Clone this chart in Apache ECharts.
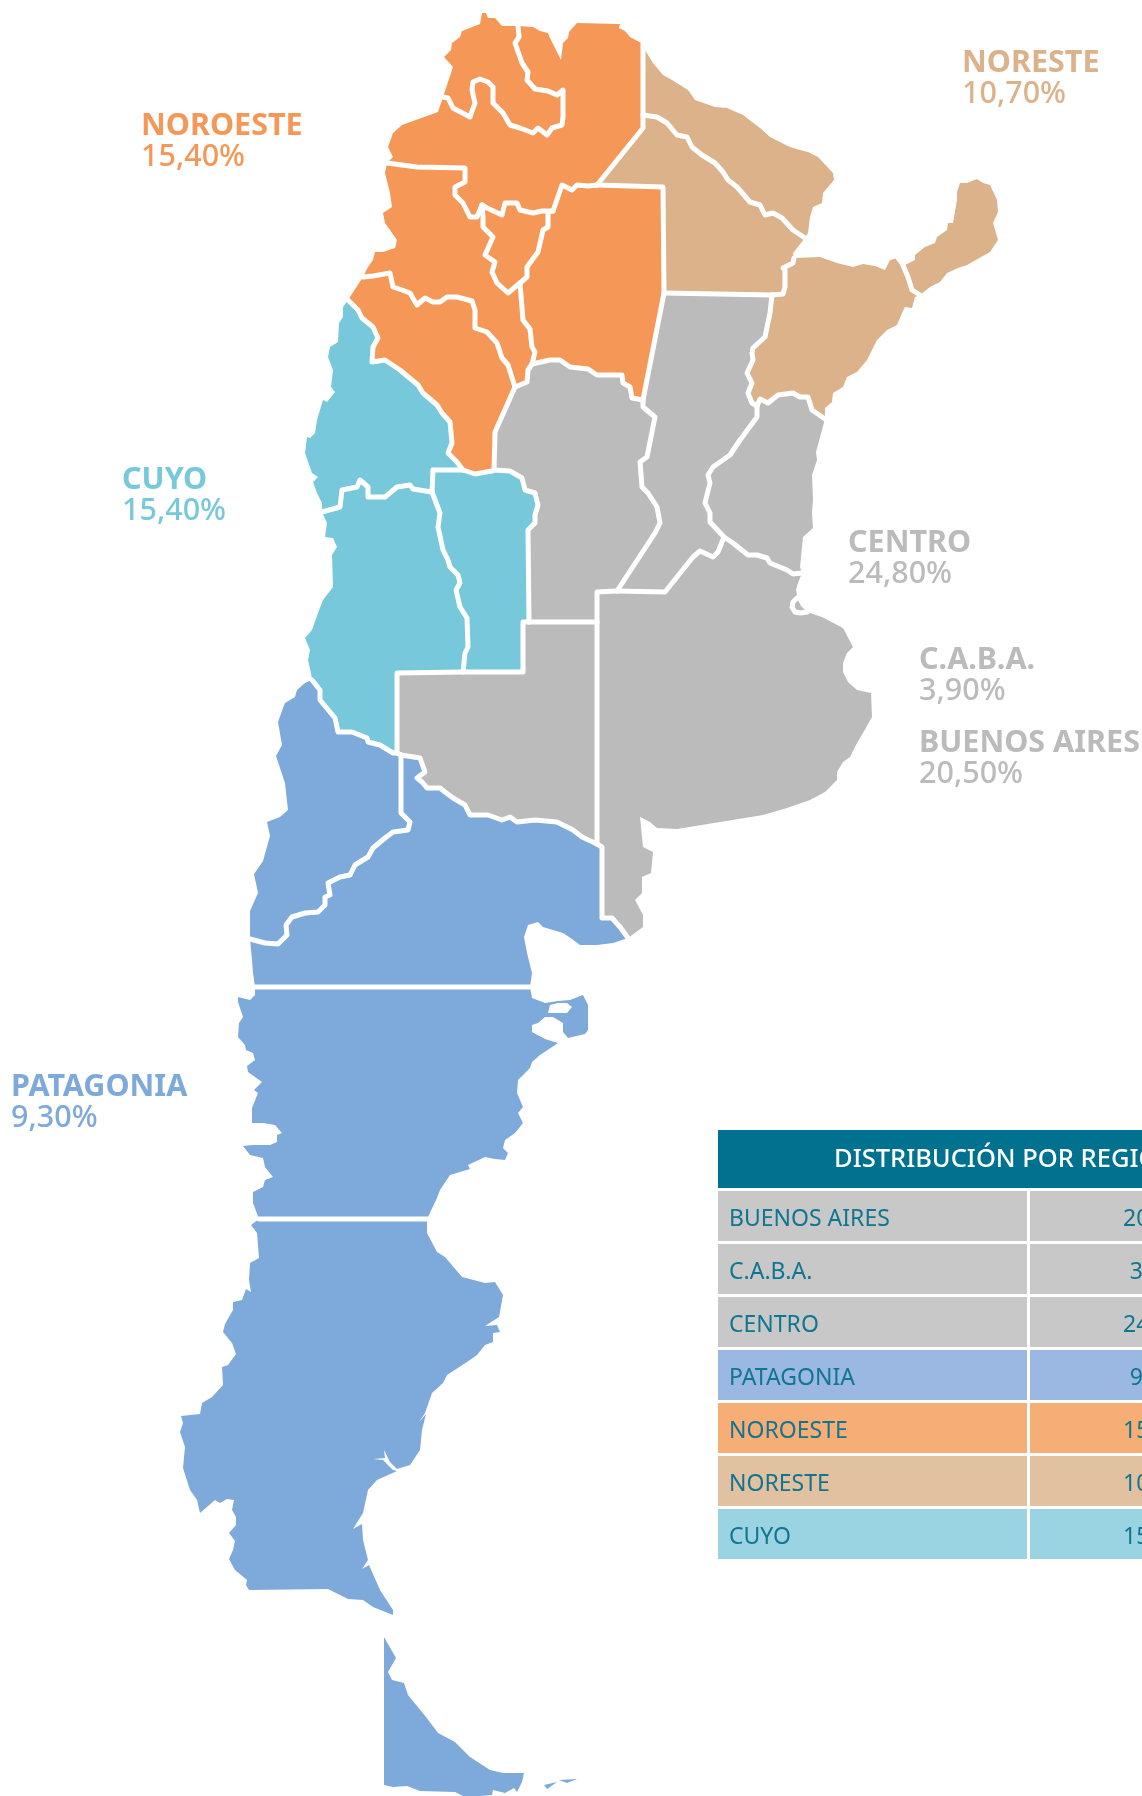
<!DOCTYPE html>
<html>
<head>
<meta charset="utf-8">
<style>
  html, body { margin: 0; padding: 0; background: #fff; }
  #chart { width: 1142px; height: 1796px; }
</style>
<script src="https://cdn.jsdelivr.net/npm/echarts@6/dist/echarts.min.js"></script>
</head>
<body>
<div id="chart"></div>
<script>
// region shares
const labelNames = ['NOROESTE', 'NORESTE', 'CUYO', 'CENTRO', 'C.A.B.A.', 'BUENOS AIRES', 'PATAGONIA'];
const labelValues = ['15,40%', '10,70%', '15,40%', '24,80%', '3,90%', '20,50%', '9,30%'];
const labelRegions = ['noa', 'nea', 'cuyo', 'pampa', 'pampa', 'pampa', 'pat'];

// table
const tableTitle = 'DISTRIBUCIÓN POR REGIÓN';
const tableNames = ['BUENOS AIRES', 'C.A.B.A.', 'CENTRO', 'PATAGONIA', 'NOROESTE', 'NORESTE', 'CUYO'];
const tableValues = ['20,50%', '3,90%', '24,80%', '9,30%', '15,40%', '10,70%', '15,40%'];

// provincia borders and coasts, map units
const coastJujuy = [[443,97],[453,67],[444,57],[451,50],[452,43],[460,37],[462,31],[480,24],[482,13],[486,13],[488,18],[495,18],[502,26],[518,26]];
const bSaltaJujuy = [[443,97],[448,98],[453,108],[470,117],[475,103],[472,90],[473,82],[480,79],[488,82],[493,87],[493,103],[503,113],[510,125],[520,128],[533,133],[538,128],[547,135],[552,128],[562,125],[563,117],[563,90],[557,95],[548,91],[535,89],[527,80],[528,72],[522,63],[515,43],[519,37],[518,26]];
const coastSaltaN = [[518,26],[533,27],[540,31],[548,33],[550,38],[555,48],[561,60],[563,43],[568,38],[569,32],[577,23],[620,24],[619,28],[625,31],[630,37],[643,44]];
const bSaltaFormosa = [[643,44],[643,115]];
const bSaltaChaco = [[643,115],[643,128],[597,185]];
const coastFormosa = [[643,47],[653,63],[663,75],[672,80],[688,90],[695,100],[715,107],[727,108],[743,115],[760,128],[770,137],[780,142],[790,147],[800,150],[808,152],[818,157],[833,173],[834,180],[823,193],[822,203],[813,207],[810,217],[808,233],[805,238]];
const bFormosaChaco = [[643,115],[657,117],[667,123],[677,135],[687,137],[692,147],[702,155],[715,163],[723,172],[728,180],[737,187],[750,202],[760,205],[765,215],[773,213],[782,218],[793,230],[805,238]];
const bChacoSantiago = [[597,185],[663,187],[664,293]];
const bChacoSantaFe = [[664,293],[772,295]];
const bChacoCorrientes = [[772,295],[783,294],[785,287],[785,270],[783,268],[793,263],[794,258]];
const coastChaco = [[794,258],[793,253],[805,238]];
const coastCorrientesN = [[794,258],[820,257],[837,263],[853,267],[863,264],[875,266],[885,270],[890,260],[898,258]];
const bMisiones = [[898,258],[902,263],[908,277],[912,290],[920,295]];
const coastMisiones = [[898,258],[905,265],[915,260],[915,255],[925,247],[935,243],[937,237],[947,230],[948,223],[953,223],[957,200],[957,192],[960,183],[967,183],[977,179],[983,183],[990,185],[997,200],[998,212],[993,223],[998,240],[990,252],[967,265],[958,268],[947,273],[940,282],[930,287],[920,295]];
const coastCorrientesE = [[920,295],[915,297],[912,308],[905,307],[902,313],[897,325],[887,330],[877,340],[867,360],[857,372],[847,377],[843,387],[833,393],[832,402],[825,408],[825,419]];
const bCorrientesER = [[757,406],[760,399],[768,403],[778,395],[793,393],[800,397],[808,397],[812,410],[825,419]];
const bCorrientesSantaFe = [[772,295],[770,313],[765,337],[753,348],[752,353],[753,360],[747,373],[752,383],[748,393],[752,403],[757,406]];
const bSantaFeER = [[757,406],[757,417],[740,440],[730,455],[713,467],[708,475],[710,483],[705,503],[710,513],[710,522],[724,537]];
const coastER = [[825,419],[822,430],[816,452],[817,460],[812,475],[813,500],[812,513],[813,528],[803,537],[800,567],[802,573]];
const bERBA = [[724,537],[733,543],[748,555],[757,555],[767,558],[770,563],[787,570],[793,574],[802,573]];
const bSantaFeBA = [[724,537],[718,552],[713,557],[700,551],[693,557],[665,592],[617,591]];
const bSantaFeCordoba = [[617,591],[655,533],[660,523],[657,507],[648,493],[642,487],[640,462],[647,457],[655,417],[643,407],[643,400]];
const bSantiagoSantaFe = [[643,400],[664,293]];
const bCordobaBA = [[617,591],[597,592],[597,622]];
const bPampaBA = [[597,622],[597,844]];
const bCordobaPampa = [[529,622],[597,622]];
const bSanLuisCordoba = [[494,470],[510,471],[522,478],[525,490],[535,493],[538,505],[535,515],[535,523],[528,530],[529,622]];
const bSanLuisPampa = [[529,622],[523,622],[523,672],[463,672]];
const bLaRiojaCordoba = [[515,387],[495,432],[494,470]];
const bSantiagoCordoba = [[532,364],[550,360],[560,360],[570,367],[588,369],[597,375],[622,375],[623,383],[630,387],[632,398],[643,400]];
const bCatamarcaCordoba = [[532,364],[528,370],[527,382],[515,387]];
const bCatamarcaSantiago = [[520,283],[523,320],[530,329],[532,347],[535,352],[532,364]];
const bCatamarcaTucuman = [[482,205],[483,217],[483,227],[493,237],[485,255],[495,262],[492,272],[497,283],[508,293],[520,283]];
const bTucumanSantiago = [[520,283],[527,277],[527,267],[538,252],[543,230],[548,227],[548,212],[553,211]];
const bSaltaTucuman = [[482,205],[487,208],[502,215],[505,203],[517,203],[520,210],[533,213],[542,211],[553,211]];
const bSaltaSantiago = [[553,211],[562,185],[572,190],[577,185],[588,186],[597,185]];
const bSaltaCatamarca = [[387,163],[417,167],[465,168],[465,182],[455,187],[455,195],[463,203],[470,217],[477,217],[482,205]];
const coastSalta = [[387,163],[393,157],[388,147],[393,133],[402,125],[438,112],[443,97]];
const coastCatamarca = [[387,163],[385,173],[390,193],[392,207],[383,213],[385,223],[397,240],[395,248],[383,252],[375,252],[373,260],[368,267],[363,277]];
const bCatamarcaLaRioja = [[363,277],[373,276],[390,273],[393,287],[402,290],[410,293],[417,305],[425,298],[433,302],[440,302],[447,297],[457,297],[472,301],[475,310],[475,328],[487,332],[497,343],[502,358],[508,365],[515,387]];
const coastLaRioja = [[363,277],[362,283],[353,297],[348,300]];
const bSanJuanLaRioja = [[348,300],[358,310],[362,318],[373,327],[378,338],[373,347],[372,362],[385,360],[400,370],[418,385],[423,393],[437,405],[442,413],[450,422],[452,443],[448,453],[457,462],[463,470]];
const bSanLuisTopA = [[433,470],[463,470]];
const bSanLuisTopB = [[463,470],[475,474],[492,471],[494,470]];
const coastSanJuan = [[348,300],[343,307],[343,317],[339,323],[338,342],[330,347],[328,357],[333,370],[331,387],[335,392],[327,402],[323,400],[317,420],[315,433],[310,438],[307,437],[305,453],[312,473],[318,477],[313,482],[317,493],[322,503],[322,512]];
const bSanJuanMendoza = [[322,512],[340,507],[342,490],[357,487],[360,480],[368,487],[368,497],[385,497],[397,487],[410,485],[413,489],[432,492]];
const bSanJuanSanLuis = [[432,492],[433,470]];
const bMendozaSanLuis = [[432,492],[440,513],[438,527],[443,550],[448,560],[450,567],[458,575],[460,583],[456,590],[460,607],[467,618],[468,647],[465,653],[463,672]];
const bMendozaPampa = [[463,672],[397,673],[397,753]];
const coastMendoza = [[322,512],[327,523],[325,537],[333,538],[337,547],[332,555],[333,587],[323,600],[318,613],[312,630],[305,638],[310,650],[308,660],[311,673],[312,680]];
const bMendozaNeuquen = [[312,680],[320,690],[320,700],[335,718],[338,732],[352,732],[367,738],[368,742],[380,745],[393,753],[397,753],[401,755]];
const bPampaRN = [[401,755],[420,758],[425,772],[417,778],[422,782],[427,788],[440,788],[445,792],[453,798],[465,805],[470,815],[488,815],[502,820],[510,817],[517,822],[535,820],[557,822],[573,830],[582,837],[597,844]];
const bBARN = [[597,844],[602,847],[602,918],[612,918],[620,927],[628,938]];
const coastBA = [[802,573],[798,583],[796,590],[798,600],[801,606],[807,612],[822,617],[843,628],[853,647],[847,653],[843,663],[843,672],[848,682],[857,690],[871,693],[872,717],[863,733],[857,743],[850,757],[843,762],[837,772],[837,780],[825,792],[810,800],[787,808],[763,815],[677,829],[657,828],[650,822],[640,817],[643,847],[653,852],[651,873],[642,877],[642,893],[635,900],[643,915],[643,927],[628,938]];
const ringCaba = [[797,598],[793,602],[792,607],[795,612],[800,613],[807,612]];
const bNeuquenRN = [[401,755],[401,813],[410,822],[408,830],[393,832],[385,838],[373,848],[368,857],[355,865],[350,875],[340,877],[328,883],[330,895],[325,897],[325,905],[318,912],[305,913],[292,917],[286,925],[287,935],[278,944],[265,943],[250,939]];
const coastNeuquen = [[312,680],[305,683],[297,690],[295,697],[285,703],[283,708],[278,722],[282,745],[276,756],[285,783],[288,810],[280,817],[267,822],[270,836],[263,861],[254,874],[258,893],[250,911],[250,939]];
const coastRN = [[628,938],[613,943],[597,945],[580,945],[572,939],[563,933],[543,927],[538,922],[528,925],[524,937],[527,953],[532,973],[530,987]];
const bRNChubut = [[255,987],[530,987]];
const coastRNW = [[255,987],[253,973],[252,960],[250,939]];
const coastChubutE = [[530,987],[532,998],[545,1003],[558,1001],[570,1000],[583,995],[588,1005],[588,1030],[585,1034],[568,1038],[563,1032],[563,1023],[553,1017],[545,1017],[538,1023],[532,1025],[532,1032],[545,1039],[558,1043],[540,1055],[532,1062],[530,1068],[518,1080],[517,1093],[523,1107],[518,1113],[523,1123],[515,1133],[505,1140],[503,1148],[508,1153],[505,1160],[495,1159],[485,1157],[468,1165],[470,1169],[450,1175],[440,1190],[437,1198],[427,1219]];
const holeGolfo = [[550,1005],[548,1013],[567,1013],[572,1007],[567,1003],[558,1003]];
const bChubutSC = [[259,1219],[427,1219]];
const coastChubutW = [[259,1219],[253,1203],[253,1192],[263,1187],[265,1180],[273,1177],[265,1167],[263,1158],[250,1155],[243,1146],[253,1145],[270,1145],[277,1142],[277,1135],[282,1133],[275,1125],[263,1123],[252,1123],[252,1108],[258,1093],[254,1090],[262,1082],[248,1072],[247,1066],[255,1060],[253,1053],[246,1050],[245,1045],[238,1037],[239,1023],[243,1017],[238,1002],[238,997],[250,1000],[255,995],[255,987]];
const coastSantaCruz = [[427,1219],[427,1233],[437,1252],[445,1257],[462,1277],[485,1283],[495,1282],[503,1295],[499,1317],[485,1326],[497,1325],[500,1332],[493,1333],[493,1342],[485,1345],[477,1355],[467,1362],[447,1375],[443,1383],[432,1393],[425,1413],[419,1422],[426,1414],[422,1430],[420,1450],[410,1465],[397,1469],[390,1462],[384,1450],[385,1458],[373,1459],[383,1460],[393,1470],[397,1471],[377,1480],[368,1490],[363,1513],[353,1529],[362,1524],[363,1540],[368,1560],[362,1569],[369,1565],[380,1590],[393,1610],[393,1615],[373,1607],[363,1600],[348,1599],[328,1589],[249,1590],[246,1585],[247,1580],[235,1570],[229,1559],[233,1550],[235,1541],[229,1533],[236,1525],[236,1517],[232,1510],[234,1500],[227,1499],[220,1503],[215,1500],[200,1513],[197,1500],[190,1490],[183,1468],[185,1447],[180,1432],[183,1423],[181,1416],[200,1414],[202,1403],[212,1397],[223,1385],[222,1367],[228,1365],[236,1354],[232,1343],[223,1332],[225,1324],[233,1310],[233,1302],[242,1300],[246,1289],[251,1292],[249,1280],[250,1263],[259,1258],[257,1233],[251,1225],[259,1219]];
const coastFuego = [[384,1637],[396,1658],[388,1672],[392,1680],[404,1683],[408,1695],[426,1717],[438,1733],[455,1742],[470,1757],[490,1770],[503,1773],[524,1773],[522,1782],[517,1792],[514,1788],[505,1793],[493,1790],[492,1795],[480,1796],[463,1796],[455,1792],[420,1791],[407,1786],[393,1787],[384,1785]];
const islaA = [[544,1785],[557,1782],[550,1787],[547,1789]];
const islaB = [[559,1780],[577,1779],[567,1783]];

const rev = a => a.slice().reverse();
const chain = (...arcs) => [].concat(...arcs);

// name, region, rings
const provincias = [
  ['Jujuy', 'noa', [chain(coastJujuy, rev(bSaltaJujuy))]],
  ['Salta', 'noa', [chain(bSaltaJujuy, coastSaltaN, bSaltaFormosa, bSaltaChaco, rev(bSaltaSantiago), rev(bSaltaTucuman), rev(bSaltaCatamarca), coastSalta)]],
  ['Catamarca', 'noa', [chain(bSaltaCatamarca, bCatamarcaTucuman, bCatamarcaSantiago, bCatamarcaCordoba, rev(bCatamarcaLaRioja), rev(coastCatamarca))]],
  ['Tucumán', 'noa', [chain(bSaltaTucuman, rev(bTucumanSantiago), rev(bCatamarcaTucuman))]],
  ['Santiago del Estero', 'noa', [chain(rev(bSaltaSantiago), bSaltaTucuman.slice(-1), rev(bTucumanSantiago), bCatamarcaSantiago, bSantiagoCordoba, bSantiagoSantaFe, rev(bChacoSantiago))]],
  ['La Rioja', 'noa', [chain(bCatamarcaLaRioja, bLaRiojaCordoba, rev(bSanLuisTopB), rev(bSanJuanLaRioja), coastLaRioja)]],
  ['Formosa', 'nea', [chain(coastFormosa, rev(bFormosaChaco), rev(bSaltaFormosa))]],
  ['Chaco', 'nea', [chain(bFormosaChaco, rev(coastChaco), rev(bChacoCorrientes), rev(bChacoSantaFe), rev(bChacoSantiago), rev(bSaltaChaco))]],
  ['Corrientes', 'nea', [chain(coastCorrientesN, bMisiones, coastCorrientesE, rev(bCorrientesER), rev(bCorrientesSantaFe), bChacoCorrientes)]],
  ['Misiones', 'nea', [chain(coastMisiones, rev(bMisiones))]],
  ['San Juan', 'cuyo', [chain(coastSanJuan, bSanJuanMendoza, bSanJuanSanLuis, bSanLuisTopA, rev(bSanJuanLaRioja))]],
  ['San Luis', 'cuyo', [chain(bSanLuisTopA, bSanLuisTopB, bSanLuisCordoba, bSanLuisPampa, rev(bMendozaSanLuis), bSanJuanSanLuis)]],
  ['Mendoza', 'cuyo', [chain(bSanJuanMendoza, bMendozaSanLuis, bMendozaPampa, rev(bMendozaNeuquen.slice(0, -1)), rev(coastMendoza))]],
  ['Córdoba', 'pampa', [chain(rev(bCatamarcaCordoba), bSantiagoCordoba, rev(bSantaFeCordoba), bCordobaBA, rev(bCordobaPampa), rev(bSanLuisCordoba), rev(bLaRiojaCordoba))]],
  ['Santa Fe', 'pampa', [chain(bChacoSantaFe, bCorrientesSantaFe, bSantaFeER, bSantaFeBA, bSantaFeCordoba, bSantiagoSantaFe)]],
  ['Entre Ríos', 'pampa', [chain(bCorrientesER, coastER, rev(bERBA), rev(bSantaFeER))]],
  ['La Pampa', 'pampa', [chain(rev(bMendozaPampa.slice(0, 2)), rev(bSanLuisPampa), bCordobaPampa, bPampaBA, rev(bPampaRN), bMendozaPampa.slice(-1))]],
  ['Buenos Aires', 'pampa', [chain(rev(bSantaFeBA), bERBA, coastBA, rev(bBARN), rev(bPampaBA), rev(bCordobaBA).slice(0, 2))]],
  ['Neuquén', 'pat', [chain(coastNeuquen, rev(bNeuquenRN), rev(bMendozaNeuquen))]],
  ['Río Negro', 'pat', [chain(bNeuquenRN, rev(coastRNW), bRNChubut, rev(coastRN), rev(bBARN), rev(bPampaRN))]],
  ['Chubut', 'pat', [chain(bRNChubut, coastChubutE, rev(bChubutSC), coastChubutW), holeGolfo]],
  ['Santa Cruz', 'pat', [chain(bChubutSC, coastSantaCruz)]],
  ['Tierra del Fuego', 'pat', [coastFuego]],
  ['Isla A', 'pat', [islaA]],
  ['Isla B', 'pat', [islaB]]
];

// white lines between provinces, the coast stays unstroked
const borders = [
  bSaltaJujuy, bSaltaFormosa, bSaltaChaco, bFormosaChaco, bChacoSantiago, bChacoSantaFe, bChacoCorrientes,
  bMisiones, bCorrientesER, bCorrientesSantaFe, bSantaFeER, bERBA, bSantaFeBA, bSantaFeCordoba, bSantiagoSantaFe,
  bCordobaBA, bPampaBA, bCordobaPampa, bSanLuisCordoba, bSanLuisPampa, bLaRiojaCordoba, bSantiagoCordoba,
  bCatamarcaCordoba, bCatamarcaSantiago, bCatamarcaTucuman, bTucumanSantiago, bSaltaTucuman, bSaltaSantiago,
  bSaltaCatamarca, bCatamarcaLaRioja, bSanJuanLaRioja, bSanLuisTopA, bSanLuisTopB, bSanJuanMendoza, bSanJuanSanLuis,
  bMendozaSanLuis, bMendozaPampa, bMendozaNeuquen, bPampaRN, bBARN, bNeuquenRN, bRNChubut, bChubutSC, ringCaba
];

const mapColors = { noa: '#F59857', nea: '#DBB28A', cuyo: '#77C8DB', pampa: '#BBBBBB', pat: '#7EA9DB' };
const rowColors = ['#C8C8C8', '#C8C8C8', '#C8C8C8', '#9AB8E2', '#F6AD76', '#E1C1A0', '#9AD4E2'];
const labelLeft = [141, 962, 122, 848, 919, 919, 11];
const labelTop = [113, 50, 467, 530, 647, 730, 1074];
const rowTop = [1191, 1244, 1297, 1350, 1403, 1456, 1509];
const ink = '#0F7590';
const fontName = '"Noto Sans", sans-serif';

const toGeo = ring => ring.map(p => [p[0], -p[1]]);

echarts.registerMap('argentina', {
  type: 'FeatureCollection',
  features: provincias.map(p => ({
    type: 'Feature',
    properties: { name: p[0] },
    geometry: { type: 'Polygon', coordinates: p[2].map(toGeo) }
  }))
});

const graphics = [];

labelNames.forEach((name, i) => {
  const color = mapColors[labelRegions[i]];
  graphics.push({
    type: 'text', left: labelLeft[i], top: labelTop[i] - 2,
    style: { text: name, fill: color, font: 'bold 30.5px ' + fontName }
  });
  graphics.push({
    type: 'text', left: labelLeft[i], top: labelTop[i] + 29,
    style: { text: labelValues[i], fill: color, font: '500 30.5px ' + fontName }
  });
});

// table, runs past the right edge of the page like the reference
graphics.push({ type: 'rect', shape: { x: 718, y: 1130, width: 570, height: 58 }, style: { fill: '#007290' } });
graphics.push({
  type: 'text', x: 834, y: 1160,
  style: { text: tableTitle, fill: '#fff', font: '500 25.5px ' + fontName, verticalAlign: 'middle' }
});
tableNames.forEach((name, i) => {
  graphics.push({ type: 'rect', shape: { x: 718, y: rowTop[i], width: 309, height: 50 }, style: { fill: rowColors[i] } });
  graphics.push({ type: 'rect', shape: { x: 1030, y: rowTop[i], width: 258, height: 50 }, style: { fill: rowColors[i] } });
  graphics.push({
    type: 'text', x: 729, y: rowTop[i] + 28,
    style: { text: name, fill: ink, font: '23px ' + fontName, verticalAlign: 'middle' }
  });
  graphics.push({
    type: 'text', x: 1162, y: rowTop[i] + 28,
    style: { text: tableValues[i], fill: ink, font: '23px ' + fontName, align: 'center', verticalAlign: 'middle' }
  });
});

const chart = echarts.init(document.getElementById('chart'));
chart.setOption({
  animation: false,
  backgroundColor: '#fff',
  geo: {
    map: 'argentina',
    roam: false,
    silent: true,
    aspectScale: 1,
    boundingCoords: [[0, 0], [1142, -1796]],
    left: 0,
    top: 0,
    width: 1142,
    height: 1796,
    label: { show: false },
    itemStyle: { borderWidth: 0, areaColor: '#BBBBBB' },
    regions: provincias.map(p => ({
      name: p[0],
      itemStyle: { areaColor: mapColors[p[1]], borderWidth: 0 }
    }))
  },
  series: [
    {
      type: 'lines',
      coordinateSystem: 'geo',
      polyline: true,
      silent: true,
      lineStyle: { color: '#fff', width: 5, opacity: 1, curveness: 0, cap: 'round', join: 'round' },
      data: borders.map(b => ({ coords: toGeo(b) }))
    }
  ],
  graphic: { elements: graphics }
});
</script>
</body>
</html>
